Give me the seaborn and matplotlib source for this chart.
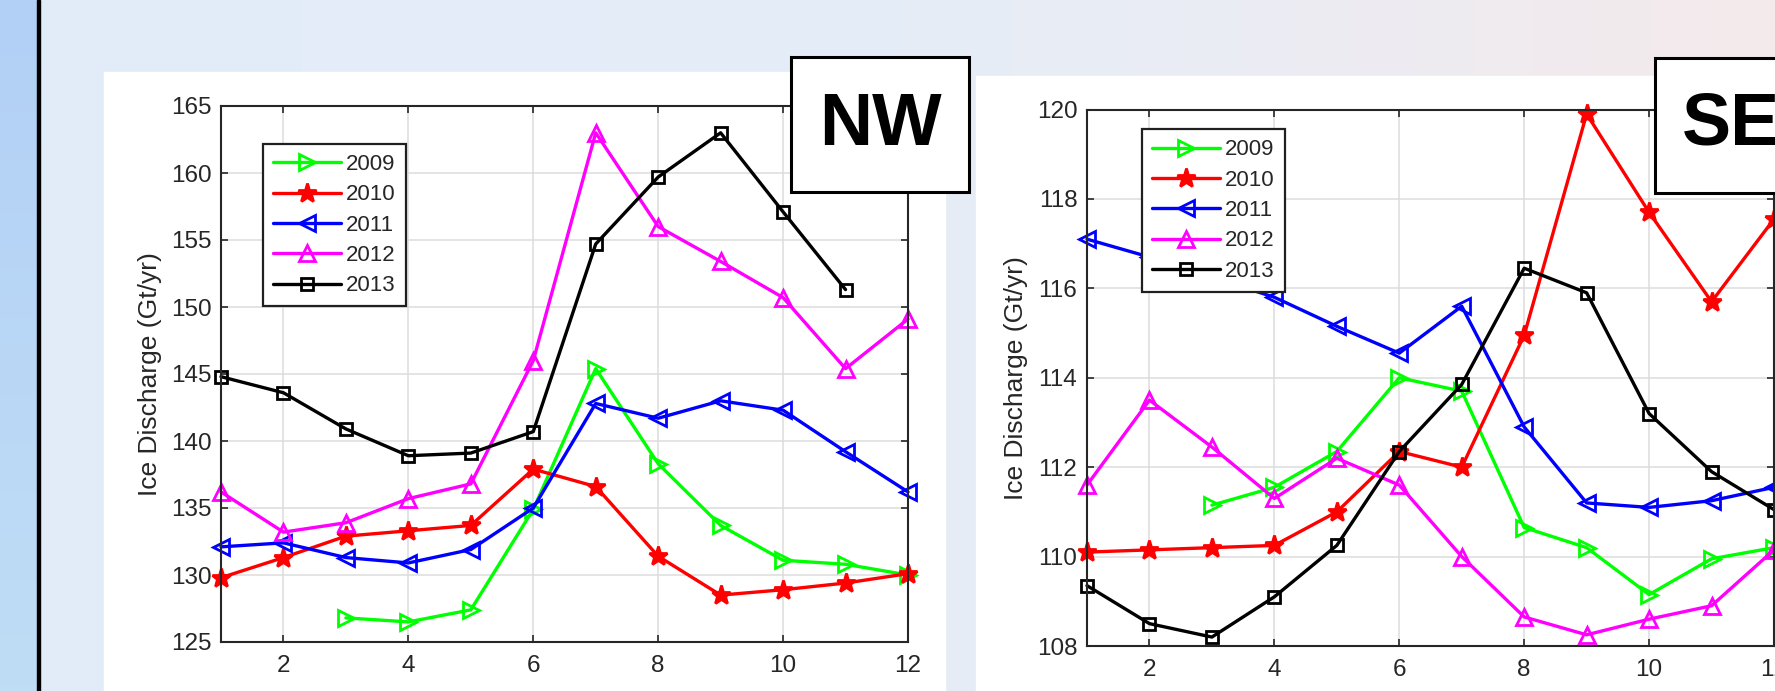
import numpy as np
import pandas as pd
import matplotlib
matplotlib.use("Agg")
import matplotlib.pyplot as plt
import seaborn as sns
from matplotlib.patches import Rectangle

# ---------------- data ----------------
months = list(range(1, 13))
years = ["2009", "2010", "2011", "2012", "2013"]
nan = np.nan

nw_2009 = [nan, nan, 126.8, 126.5, 127.4, 134.9, 145.4, 138.3, 133.7, 131.1, 130.8, 130.0]
nw_2010 = [129.8, 131.3, 132.9, 133.3, 133.7, 137.9, 136.6, 131.4, 128.5, 128.9, 129.4, 130.1]
nw_2011 = [132.1, 132.4, 131.3, 130.9, 131.9, 135.0, 142.8, 141.7, 143.0, 142.3, 139.2, 136.2]
nw_2012 = [136.2, 133.2, 133.9, 135.7, 136.8, 146.0, 163.0, 156.0, 153.4, 150.7, 145.4, 149.1]
nw_2013 = [144.8, 143.6, 140.9, 138.9, 139.1, 140.7, 154.7, 159.7, 163.0, 157.1, 151.3, nan]

se_2009 = [nan, nan, 111.15, 111.55, 112.35, 114.0, 113.7, 110.65, 110.2, 109.15, 109.95, 110.2]
se_2010 = [110.1, 110.15, 110.2, 110.25, 111.0, 112.35, 112.0, 114.95, 119.9, 117.7, 115.7, 117.55]
se_2011 = [117.1, 116.7, 116.25, 115.8, 115.15, 114.55, 115.6, 112.9, 111.2, 111.1, 111.25, 111.55]
se_2012 = [111.6, 113.5, 112.45, 111.3, 112.2, 111.6, 110.0, 108.65, 108.25, 108.6, 108.9, 110.15]
se_2013 = [109.35, 108.5, 108.2, 109.1, 110.25, 112.35, 113.85, 116.45, 115.9, 113.2, 111.9, 111.05]

nw_yticks = [125, 130, 135, 140, 145, 150, 155, 160, 165]
se_yticks = [108, 110, 112, 114, 116, 118, 120]
xticks = [2, 4, 6, 8, 10, 12]
ylabel = "Ice Discharge (Gt/yr)"

colors = {"2009": "#00ff00", "2010": "#ff0000", "2011": "#0000ff",
          "2012": "#ff00ff", "2013": "#000000"}
markers = {"2009": ">", "2010": "*", "2011": "<", "2012": "^", "2013": "s"}
msizes = {"2009": 11, "2010": 14, "2011": 11, "2012": 11, "2013": 8.5}


def long_df(series):
    rows = []
    for y, vals in zip(years, series):
        for m, v in zip(months, vals):
            if not np.isnan(v):
                rows.append({"month": m, "value": v, "year": y})
    return pd.DataFrame(rows)


df_nw = long_df([nw_2009, nw_2010, nw_2011, nw_2012, nw_2013])
df_se = long_df([se_2009, se_2010, se_2011, se_2012, se_2013])

# ---------------- figure ----------------
sns.set_theme(style="white")
plt.rcParams["font.family"] = ["Liberation Sans", "DejaVu Sans"]

W, H = 1775, 691
fig = plt.figure(figsize=(W / 100, H / 100), dpi=100)

# background layer (pixel coordinates)
bg = fig.add_axes([0, 0, 1, 1], zorder=0)
bg.set_xlim(0, W)
bg.set_ylim(H, 0)
bg.axis("off")
ctrl_x = [0, 900, 1300, 1775]
ctrl_c = np.array([[226, 236, 250], [229, 236, 247], [236, 236, 243], [244, 234, 235]]) / 255
xs = np.linspace(0, W, 300)
grad = np.stack([np.interp(xs, ctrl_x, ctrl_c[:, k]) for k in range(3)], axis=-1)[None, :, :]
bg.imshow(grad, extent=[0, W, H, 0], aspect="auto", zorder=0)
band = np.linspace(0, 1, 100)[:, None, None] * (np.array([192, 221, 246]) - np.array([178, 208, 245])) / 255 \
    + np.array([178, 208, 245])[None, None, :] / 255
bg.imshow(band, extent=[0, 37, H, 0], aspect="auto", zorder=1)
bg.add_patch(Rectangle((37, 0), 3, H, color="black", zorder=2))
bg.add_patch(Rectangle((104, 72), 945 - 104, H - 72, color="white", zorder=2))
bg.add_patch(Rectangle((976, 76), W - 976, H - 76, color="white", zorder=2))
bg.set_xlim(0, W)
bg.set_ylim(H, 0)


def px_axes(left, top, right, bottom):
    return fig.add_axes([left / W, (H - bottom) / H, (right - left) / W, (bottom - top) / H], zorder=1)


tick_color = "#262626"


def draw_panel(ax, df, ylim, yticks, leg_anchor):
    for y in years:
        sub = df[df["year"] == y]
        c = colors[y]
        mfc = c if y == "2010" else "none"
        sns.lineplot(data=sub, x="month", y="value", ax=ax, color=c,
                     marker=markers[y], markersize=msizes[y],
                     markerfacecolor=mfc, markeredgecolor=c,
                     markeredgewidth=2.0, linewidth=2.4, label=y,
                     clip_on=False, errorbar=None, sort=True)
    ax.set_xlim(1, 12)
    ax.set_ylim(*ylim)
    ax.set_xticks(xticks)
    ax.set_yticks(yticks)
    ax.set_xlabel("")
    ax.set_ylabel(ylabel, fontsize=19, color=tick_color, labelpad=6)
    ax.grid(True, color="#dcdcdc", linewidth=1.1)
    ax.set_axisbelow(True)
    for s in ax.spines.values():
        s.set_visible(True)
        s.set_color(tick_color)
        s.set_linewidth(1.5)
    ax.tick_params(axis="both", which="major", direction="in", length=5, width=1.2,
                   color=tick_color, labelcolor=tick_color, labelsize=17.5,
                   top=True, right=True, bottom=True, left=True)
    ax.tick_params(axis="x", pad=9)
    ax.tick_params(axis="y", pad=7)
    leg = ax.legend(loc="upper left", bbox_to_anchor=leg_anchor, fontsize=16,
                    frameon=True, fancybox=False, framealpha=1, edgecolor="#202020",
                    handlelength=3.05, handletextpad=0.25, borderpad=0.45,
                    labelspacing=0.42, borderaxespad=0)
    leg.get_frame().set_linewidth(1.6)
    for t in leg.get_texts():
        t.set_color(tick_color)


ax_nw = px_axes(221, 106, 908, 642)
draw_panel(ax_nw, df_nw, (125, 165), nw_yticks, (0.061, 0.929))

ax_se = px_axes(1087, 109.5, 1774, 646)
draw_panel(ax_se, df_se, (108, 120), se_yticks, (0.080, 0.963))

# overlay for region label boxes
ov = fig.add_axes([0, 0, 1, 1], zorder=3)
ov.set_xlim(0, W)
ov.set_ylim(H, 0)
ov.axis("off")
ov.patch.set_alpha(0)
ov.add_patch(Rectangle((791, 57), 178, 135, facecolor="white", edgecolor="black", linewidth=2.2))
ov.text(880, 125, "NW", fontsize=53, fontweight="bold", ha="center", va="center", color="black")
ov.add_patch(Rectangle((1655, 58), 178, 135, facecolor="white", edgecolor="black", linewidth=2.2))
ov.text(1682, 126, "SE", fontsize=53, fontweight="bold", ha="left", va="center", color="black")

fig.savefig("out.png", dpi=100)
